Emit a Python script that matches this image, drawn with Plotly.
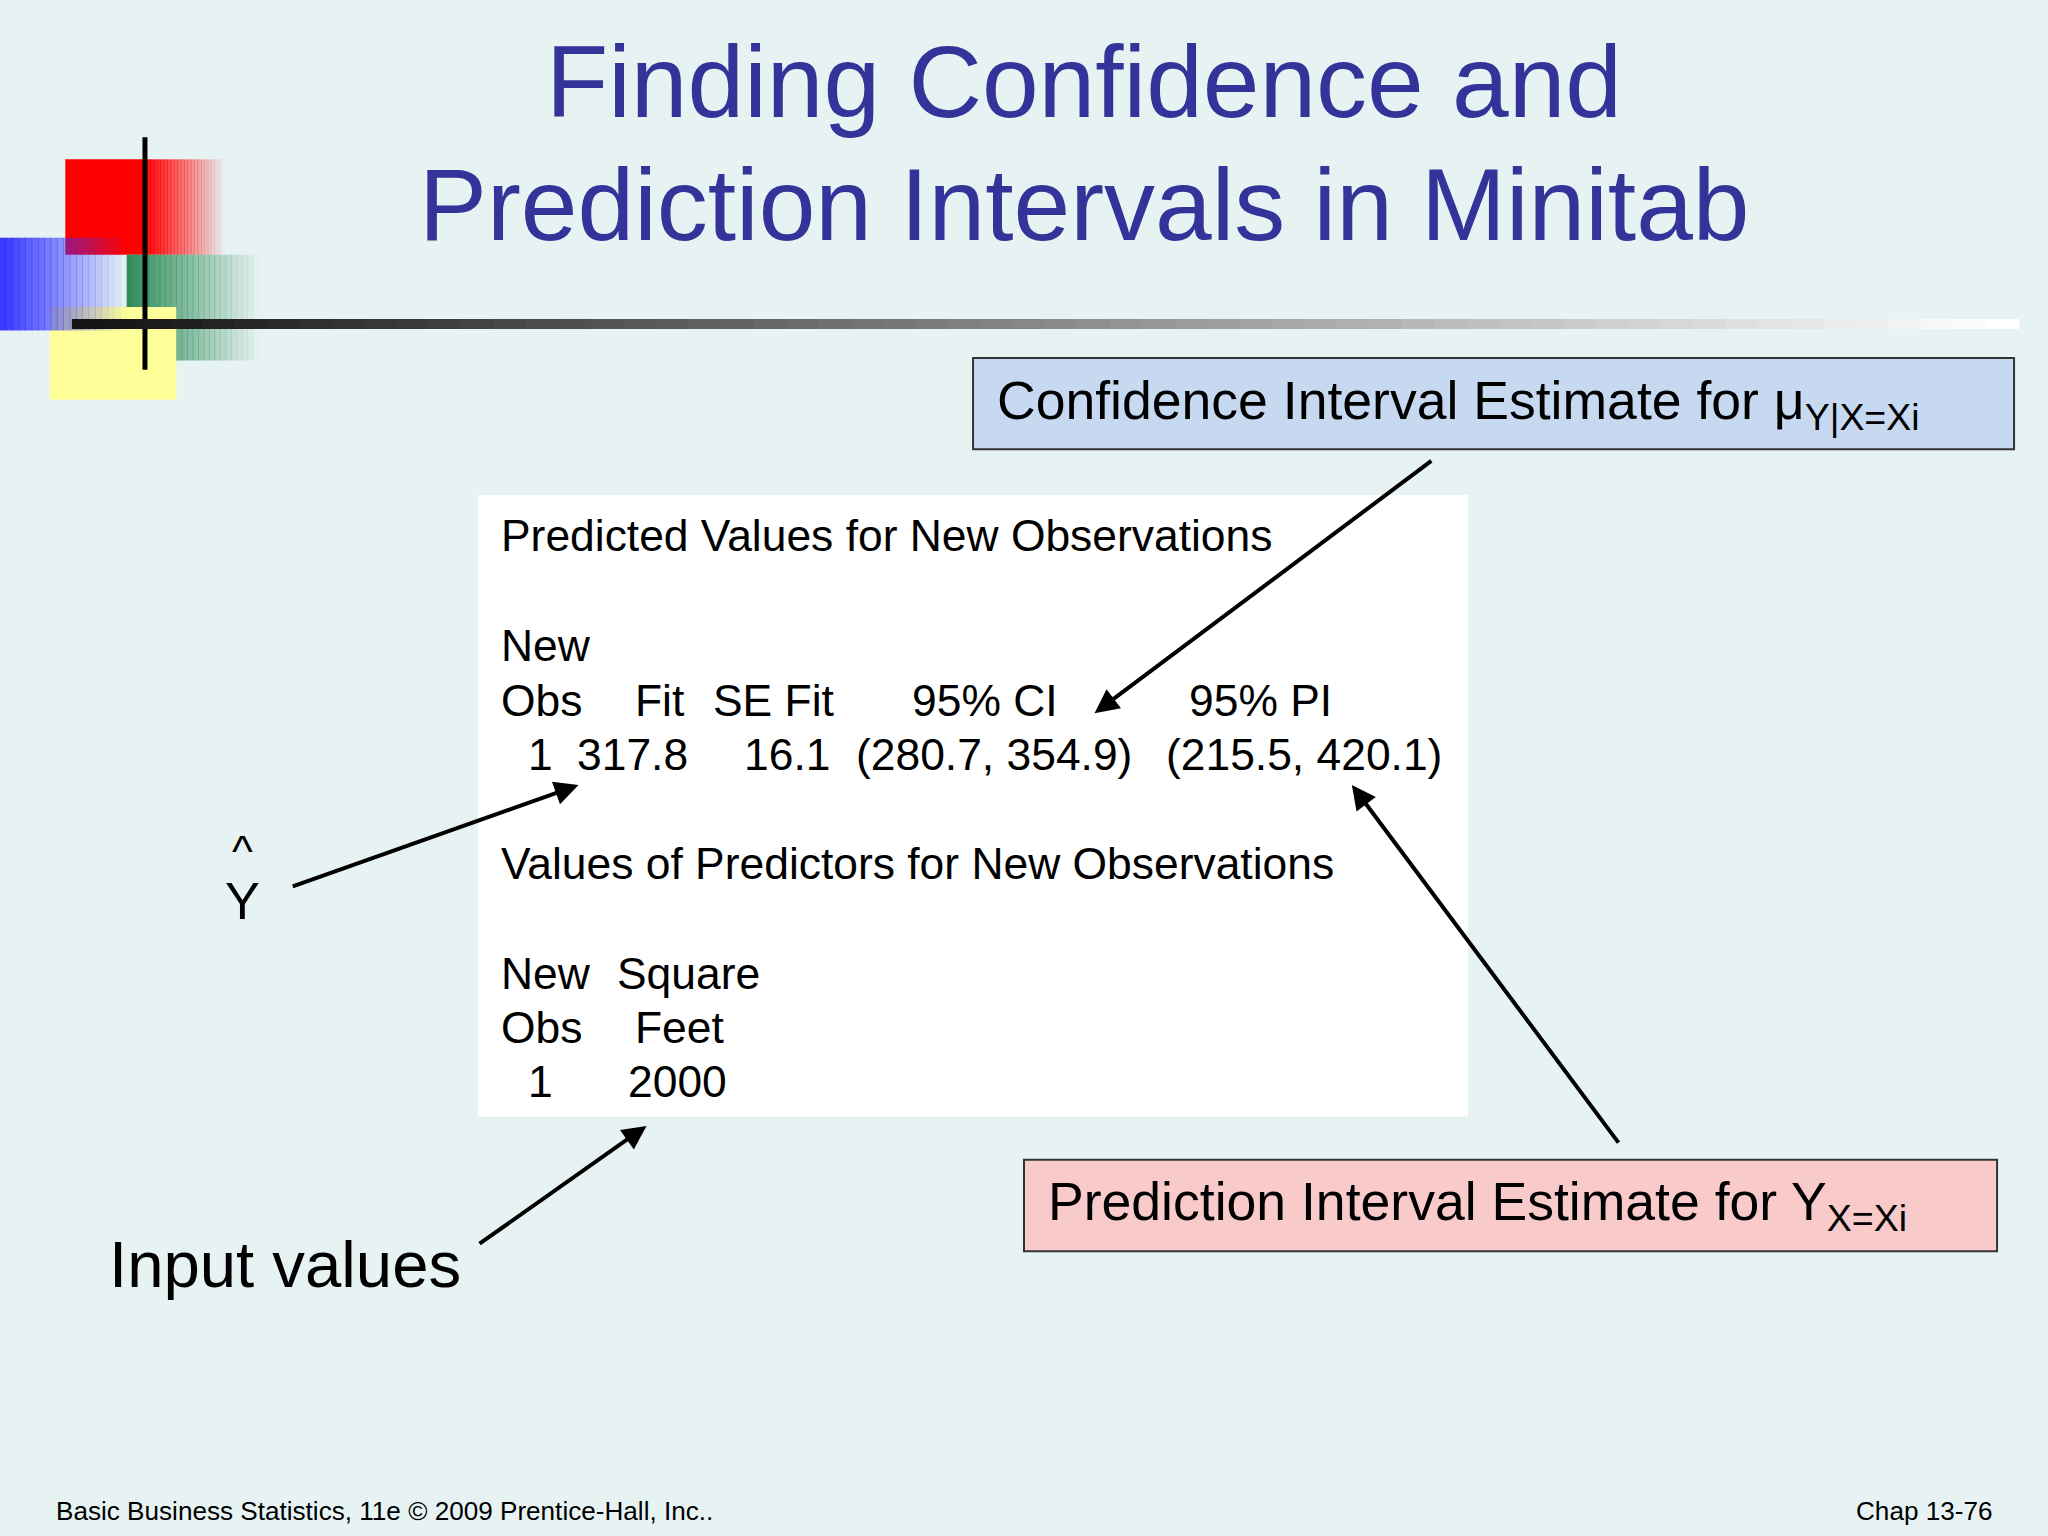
import plotly.graph_objects as go

# slide content
TITLE_LINES = ["Finding Confidence and", "Prediction Intervals in Minitab"]
HEADER_1 = "Predicted Values for New Observations"
HEADER_2 = "Values of Predictors for New Observations"
PRED_COLS = ["Obs", "Fit", "SE Fit", "95% CI", "95% PI"]
PRED_ROW = ["1", "317.8", "16.1", "(280.7, 354.9)", "(215.5, 420.1)"]
PRED_COL_X = [382, 485, 544, 697, 909]
PRED_ROW_X = [403, 440, 568, 654, 891]
INPUT_COLS = [("New", "Square"), ("Obs", "Feet")]
INPUT_ROW = ["1", "2000"]
CI_LABEL = "Confidence Interval Estimate for μ<sub>Y|X=Xi</sub>"
PI_LABEL = "Prediction Interval Estimate for Y<sub>X=Xi</sub>"
FOOTER_LEFT = "Basic Business Statistics, 11e © 2009 Prentice-Hall, Inc.."
FOOTER_RIGHT = "Chap 13-76"

W, H = 1568, 1176          # slide units
S = 2048 / W               # px per slide unit
FONT = "Liberation Sans"
BG = "#e7f3f3"

fig = go.Figure()
shapes, notes = [], []

def text(x, y, s, size, color="black", anchor="left"):
    notes.append(dict(x=x, y=y, text=s, showarrow=False, xanchor=anchor, yanchor="middle",
                      font=dict(family=FONT, size=size * S, color=color)))

def rect(x0, y0, x1, y1, fill, line=None, opacity=1.0):
    shapes.append(dict(type="rect", x0=x0, y0=y0, x1=x1, y1=y1, fillcolor=fill, opacity=opacity,
                       line=dict(color=line or fill, width=2 if line else 0), layer="below"))

def fade(x0, y0, x1, y1, color, n=24, start=0):
    # solid up to start, then fade to transparent toward x1
    if start:
        rect(x0, y0, start, y1, color)
        x0 = start
    step = (x1 - x0) / n
    for i in range(n):
        rect(x0 + i * step, y0, x0 + (i + 1) * step + 0.5, y1, color, opacity=1 - (i + 0.5) / n)

# decorative squares
fade(50, 122, 172, 195, "#ff0000", start=110)
fade(97, 195, 198, 276, "#2e8b57")
rect(38, 235, 135, 306, "#ffff99")
fade(0, 182, 97, 253, "#3333ff", n=20)
shapes.append(dict(type="line", x0=111, x1=111, y0=105, y1=283, line=dict(color="black", width=5)))
n = 60
for i in range(n):
    x0 = 55 + i * (1545 - 55) / n
    g = int(20 + 235 * i / (n - 1))
    shapes.append(dict(type="line", x0=x0, x1=x0 + (1545 - 55) / n + 1, y0=248, y1=248,
                       line=dict(color=f"rgb({g},{g},{g})", width=10)))

# title
text(830, 63, TITLE_LINES[0], 78, "#333399", "center")
text(830, 157, TITLE_LINES[1], 78, "#333399", "center")

# minitab output box
rect(366, 379, 1124, 855, "white")
fs = 34
text(382, 410, HEADER_1, fs)
text(382, 494, "New", fs)
for x, s in zip(PRED_COL_X, PRED_COLS):
    text(x, 536, s, fs)
for x, s in zip(PRED_ROW_X, PRED_ROW):
    text(x, 578, s, fs)
text(382, 661, HEADER_2, fs)
text(382, 745, INPUT_COLS[0][0], fs)
text(471, 745, INPUT_COLS[0][1], fs)
text(382, 787, INPUT_COLS[1][0], fs)
text(485, 787, INPUT_COLS[1][1], fs)
text(403, 828, INPUT_ROW[0], fs)
text(479, 828, INPUT_ROW[1], fs)

# callout boxes
rect(745, 274, 1542, 344, "#c6d9f1", line="#333333")
text(762, 310, CI_LABEL, 41)
rect(784, 888, 1529, 958, "#f8caca", line="#333333")
text(801, 923, PI_LABEL, 41)

# side labels
text(186, 652, "^", 34, anchor="center")
text(186, 690, "Y", 40, anchor="center")
text(82, 968, "Input values", 50)
text(41, 1157, FOOTER_LEFT, 20)
text(1527, 1157, FOOTER_RIGHT, 20, anchor="right")

# arrows
for (tx, ty), (hx, hy) in [((1097, 352), (838, 546)), ((1240, 876), (1035, 601)),
                           ((223, 679), (443, 601)), ((366, 953), (495, 862))]:
    notes.append(dict(x=hx, y=hy, ax=tx, ay=ty, xref="x", yref="y", axref="x", ayref="y",
                      showarrow=True, arrowhead=2, arrowsize=1.2, arrowwidth=4, arrowcolor="black",
                      text=""))

fig.update_layout(width=2048, height=1536, margin=dict(l=0, r=0, t=0, b=0),
                  paper_bgcolor=BG, plot_bgcolor=BG, shapes=shapes, annotations=notes,
                  showlegend=False)
fig.update_xaxes(range=[0, W], visible=False, fixedrange=True)
fig.update_yaxes(range=[H, 0], visible=False, fixedrange=True)
fig.write_html("out.html", config={"displayModeBar": False},
               post_script="document.body.style.margin='0';document.body.style.background='%s';" % BG)
